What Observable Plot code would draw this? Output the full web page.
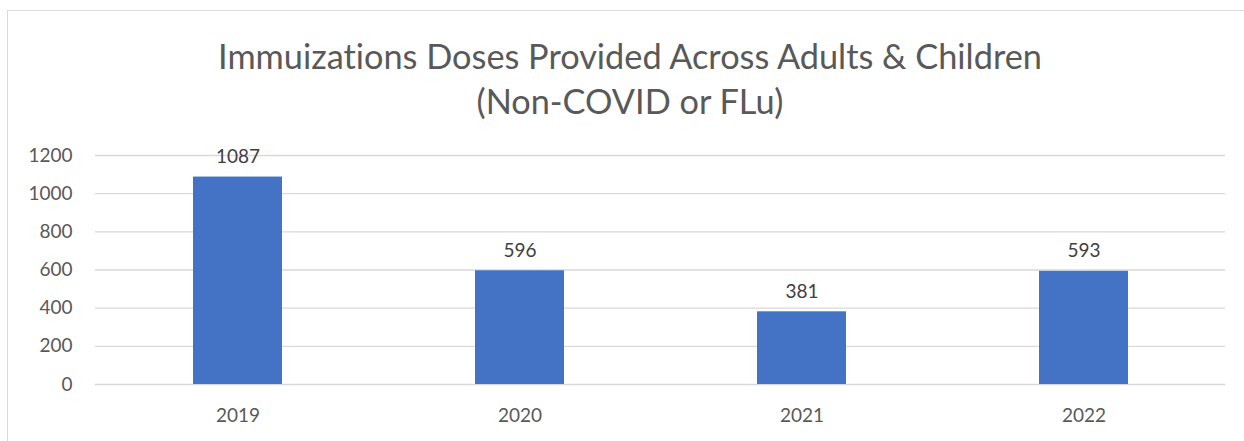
<!DOCTYPE html>
<html>
<head>
<meta charset="utf-8">
<script src="https://cdn.jsdelivr.net/npm/d3@7"></script>
<script src="https://cdn.jsdelivr.net/npm/@observablehq/plot@0.6"></script>
<style>
  html, body { margin: 0; padding: 0; background: #fff; }
  body { width: 1244px; height: 441px; position: relative; overflow: hidden; font-family: Lato, "Open Sans", sans-serif; }
  #frame { position: absolute; left: 7px; top: 10px; width: 1250px; height: 450px; border: 1px solid #d9d9d9; box-sizing: border-box; }
  #title { position: absolute; left: 8px; top: 33px; width: 1244px; text-align: center; color: #595959; font-size: 34.3px; line-height: 45px; font-variant-ligatures: none; }
  #chart { position: absolute; left: 0; top: 130px; }
</style>
</head>
<body>
<div id="frame"></div>
<div id="title">Immuizations Doses Provided Across Adults &amp; Children<br>(Non-COVID or FLu)</div>
<div id="chart"></div>
<script>
const years = ["2019", "2020", "2021", "2022"];
const doses = [1087, 596, 381, 593];
const yTicks = [0, 200, 400, 600, 800, 1000, 1200];

const data = years.map((year, i) => ({ year, value: doses[i] }));

const plot = Plot.plot({
  width: 1244,
  height: 311,
  marginLeft: 95,
  marginRight: 19,
  marginTop: 25,
  marginBottom: 57,
  style: { fontFamily: "Lato, 'Open Sans', sans-serif", fontSize: "19px", background: "transparent" },
  x: { domain: years, paddingInner: 0.685, paddingOuter: 0.3425, label: null },
  y: { domain: [0, 1200], label: null },
  marks: [
    Plot.gridY(yTicks, { stroke: "#d9d9d9", strokeOpacity: 1, strokeWidth: 1.3 }),
    Plot.axisY(yTicks, { tickSize: 0, tickPadding: 23, tickFormat: d3.format("d"), fill: "#595959", fontSize: 19, label: null }),
    Plot.axisX({ tickSize: 0, tickPadding: 24, fill: "#595959", fontSize: 19, label: null }),
    Plot.barY(data, { x: "year", y: "value", fill: "#4472C4" }),
    Plot.text(data, { x: "year", y: "value", text: d => String(d.value), dy: -20, fill: "#404040", fontSize: 19 })
  ]
});
document.getElementById("chart").appendChild(plot);
</script>
</body>
</html>
